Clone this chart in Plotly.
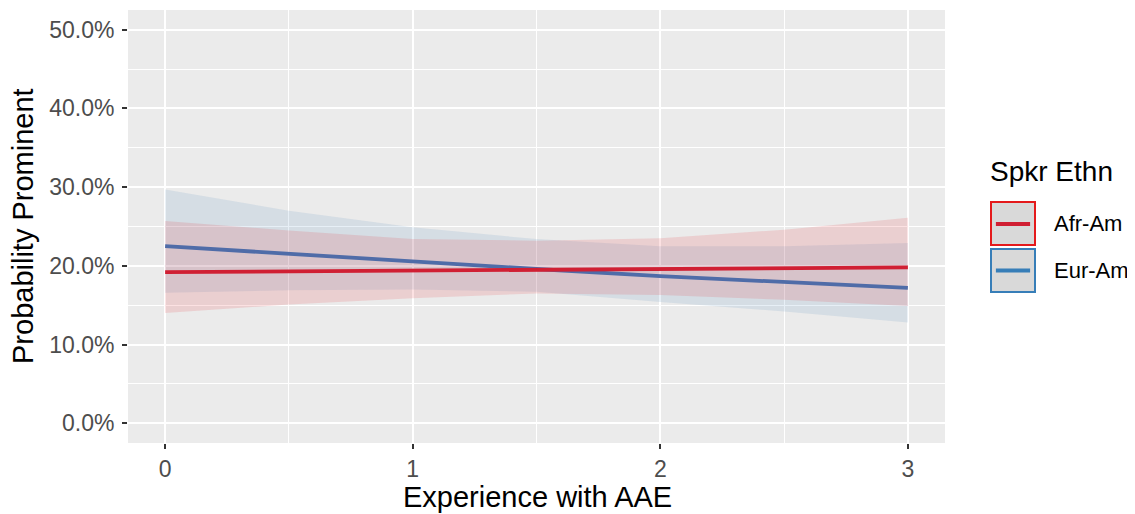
import plotly.graph_objects as go

# ---- data ----
x_vals = [0, 0.5, 1, 1.5, 2, 2.5, 3]

afr_fit = [0.192, 0.193, 0.194, 0.195, 0.196, 0.197, 0.198]
afr_upper = [0.257, 0.245, 0.234, 0.232, 0.235, 0.246, 0.261]
afr_lower = [0.140, 0.151, 0.159, 0.165, 0.163, 0.157, 0.149]

eur_fit = [0.225, 0.215, 0.205, 0.196, 0.187, 0.179, 0.172]
eur_upper = [0.297, 0.270, 0.249, 0.234, 0.225, 0.225, 0.229]
eur_lower = [0.166, 0.169, 0.170, 0.167, 0.154, 0.142, 0.128]

series_names = ["Afr-Am", "Eur-Am"]
legend_title = "Spkr Ethn"
y_ticks = [0, 0.1, 0.2, 0.3, 0.4, 0.5]
y_ticklabels = ["0.0%", "10.0%", "20.0%", "30.0%", "40.0%", "50.0%"]
x_ticks = [0, 1, 2, 3]

RED_LINE = "#D01F33"
BLUE_LINE = "#4F6CA8"
RED_FILL = "rgba(228,26,28,0.13)"
BLUE_FILL = "rgba(55,126,184,0.12)"
RED_KEY = "#E41A1C"
BLUE_KEY = "#377EB8"

fig = go.Figure()

# ribbons
for up, lo, fill in [(eur_upper, eur_lower, BLUE_FILL), (afr_upper, afr_lower, RED_FILL)]:
    fig.add_trace(go.Scatter(x=x_vals, y=up, mode="lines", line=dict(width=0),
                             showlegend=False, hoverinfo="skip"))
    fig.add_trace(go.Scatter(x=x_vals, y=lo, mode="lines", line=dict(width=0),
                             fill="tonexty", fillcolor=fill, showlegend=False, hoverinfo="skip"))

# lines
fig.add_trace(go.Scatter(x=x_vals, y=eur_fit, mode="lines", line=dict(color=BLUE_LINE, width=3.8),
                         name=series_names[1], showlegend=False))
fig.add_trace(go.Scatter(x=x_vals, y=afr_fit, mode="lines", line=dict(color=RED_LINE, width=3.8),
                         name=series_names[0], showlegend=False))

FONT = "Liberation Sans, Arial, sans-serif"

# page body has an 8px default margin, so the figure is sized/offset to compensate
fig.update_layout(
    width=1127, height=506,
    margin=dict(l=120, r=190, t=2, b=71, autoexpand=False),
    paper_bgcolor="white",
    plot_bgcolor="#EBEBEB",
    font=dict(family=FONT, color="#4D4D4D"),
    showlegend=False,
)

fig.update_xaxes(
    range=[-0.15, 3.15],
    tickvals=x_ticks,
    ticktext=[str(v) for v in x_ticks],
    ticks="outside", ticklen=5, tickwidth=1.5, tickcolor="#333333",
    tickfont=dict(size=23, color="#4D4D4D", family=FONT),
    showgrid=True, gridcolor="white", gridwidth=1.8,
    minor=dict(dtick=0.5, tick0=0.5, showgrid=True, gridcolor="white", gridwidth=0.9),
    zeroline=False, showline=False, automargin=False,
)
fig.update_yaxes(
    range=[-0.025, 0.525],
    tickvals=y_ticks,
    ticktext=y_ticklabels,
    ticks="outside", ticklen=5, tickwidth=1.5, tickcolor="#333333",
    tickfont=dict(size=23, color="#4D4D4D", family=FONT),
    ticklabelstandoff=3,
    showgrid=True, gridcolor="white", gridwidth=1.8,
    minor=dict(dtick=0.1, tick0=0.05, showgrid=True, gridcolor="white", gridwidth=0.9),
    zeroline=False, showline=False, automargin=False,
)

# axis titles as annotations positioned in paper space (panel: x 128-945, y 10-443 px)
fig.add_annotation(xref="paper", yref="paper", x=(537 - 128) / 817, y=(443 - 497) / 433,
                   text="Experience with AAE", showarrow=False, xanchor="center", yanchor="middle",
                   font=dict(size=29, color="black", family=FONT))
fig.add_annotation(xref="paper", yref="paper", x=(23 - 128) / 817, y=(443 - 226) / 433,
                   text="Probability Prominent", showarrow=False, textangle=-90,
                   xanchor="center", yanchor="middle",
                   font=dict(size=29, color="black", family=FONT))

# ---- manual ggplot-style legend ----
L, R = 863 / 817, 907 / 817
keys = [
    (0.5566, 0.4573, 0.5058, RED_KEY, RED_LINE, series_names[0]),
    (0.4480, 0.3487, 0.3984, BLUE_KEY, BLUE_KEY, series_names[1]),
]
for top, bot, mid, border, linec, label in keys:
    fig.add_shape(type="rect", xref="paper", yref="paper", x0=L, x1=R, y0=bot, y1=top,
                  line=dict(color=border, width=2), fillcolor="#D9D9D9", layer="above")
    fig.add_shape(type="line", xref="paper", yref="paper", x0=L + 0.006, x1=R - 0.006, y0=mid, y1=mid,
                  line=dict(color=linec, width=3.8), layer="above")
    fig.add_annotation(xref="paper", yref="paper", x=1.131, y=mid, text=label, showarrow=False,
                       xanchor="left", yanchor="middle", font=dict(size=22, color="black", family=FONT))

fig.add_annotation(xref="paper", yref="paper", x=1.053, y=0.626, text=legend_title, showarrow=False,
                   xanchor="left", yanchor="middle", font=dict(size=28, color="black", family=FONT))

fig.write_html("out.html")
